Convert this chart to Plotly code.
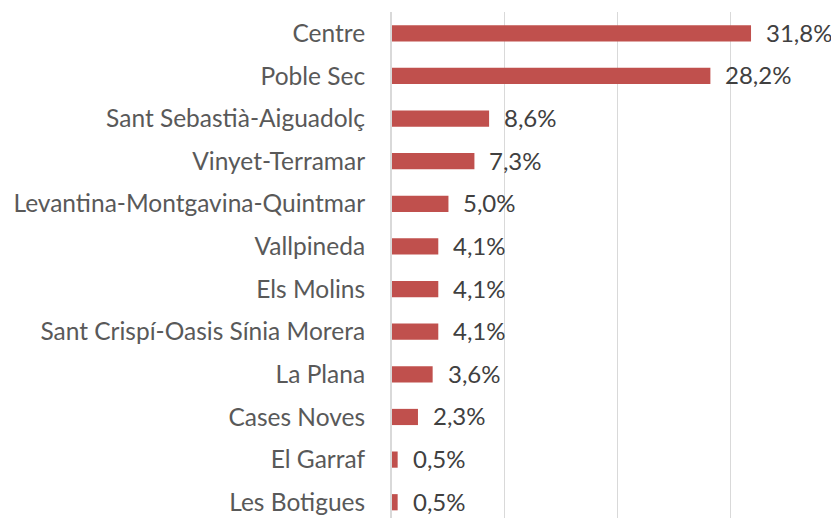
import plotly.graph_objects as go

categories = ["Centre", "Poble Sec", "Sant Sebastià-Aiguadolç", "Vinyet-Terramar",
              "Levantina-Montgavina-Quintmar", "Vallpineda", "Els Molins",
              "Sant Crispí-Oasis Sínia Morera", "La Plana", "Cases Noves",
              "El Garraf", "Les Botigues"]
values = [31.8, 28.2, 8.6, 7.3, 5.0, 4.1, 4.1, 4.1, 3.6, 2.3, 0.5, 0.5]
value_labels = ["31,8%", "28,2%", "8,6%", "7,3%", "5,0%", "4,1%", "4,1%", "4,1%",
                "3,6%", "2,3%", "0,5%", "0,5%"]

cats = categories[::-1]
vals = values[::-1]
labs = value_labels[::-1]

FONT = "Lato"
fig = go.Figure()
fig.add_trace(go.Bar(
    y=cats, x=vals, orientation="h",
    marker=dict(color="#C0504D", line=dict(width=0)),
    width=0.38, hoverinfo="skip",
))
for c, v, t in zip(cats, vals, labs):
    fig.add_annotation(x=v, y=c, text=t, showarrow=False, xanchor="left",
                       xshift=13, yshift=1,
                       font=dict(family=FONT, size=24, color="#404040"))

fig.update_layout(
    width=839, height=518,
    margin=dict(l=384, r=0, t=4, b=8, autoexpand=False),
    paper_bgcolor="white", plot_bgcolor="white",
    showlegend=False,
    xaxis=dict(range=[0, 40.3], dtick=10, showticklabels=False,
               showgrid=True, gridcolor="#D9D9D9", gridwidth=1.3,
               zeroline=False, showline=False, fixedrange=True,
               automargin=False),
    yaxis=dict(categoryorder="array", categoryarray=cats,
               range=[-0.37, 11.5], showgrid=False, zeroline=False,
               showline=True, linecolor="#D9D9D9", linewidth=2,
               ticks="", ticklabelstandoff=20, automargin=False,
               tickfont=dict(family=FONT, size=24.5, color="#595959")),
)
fig.write_html("out.html")
